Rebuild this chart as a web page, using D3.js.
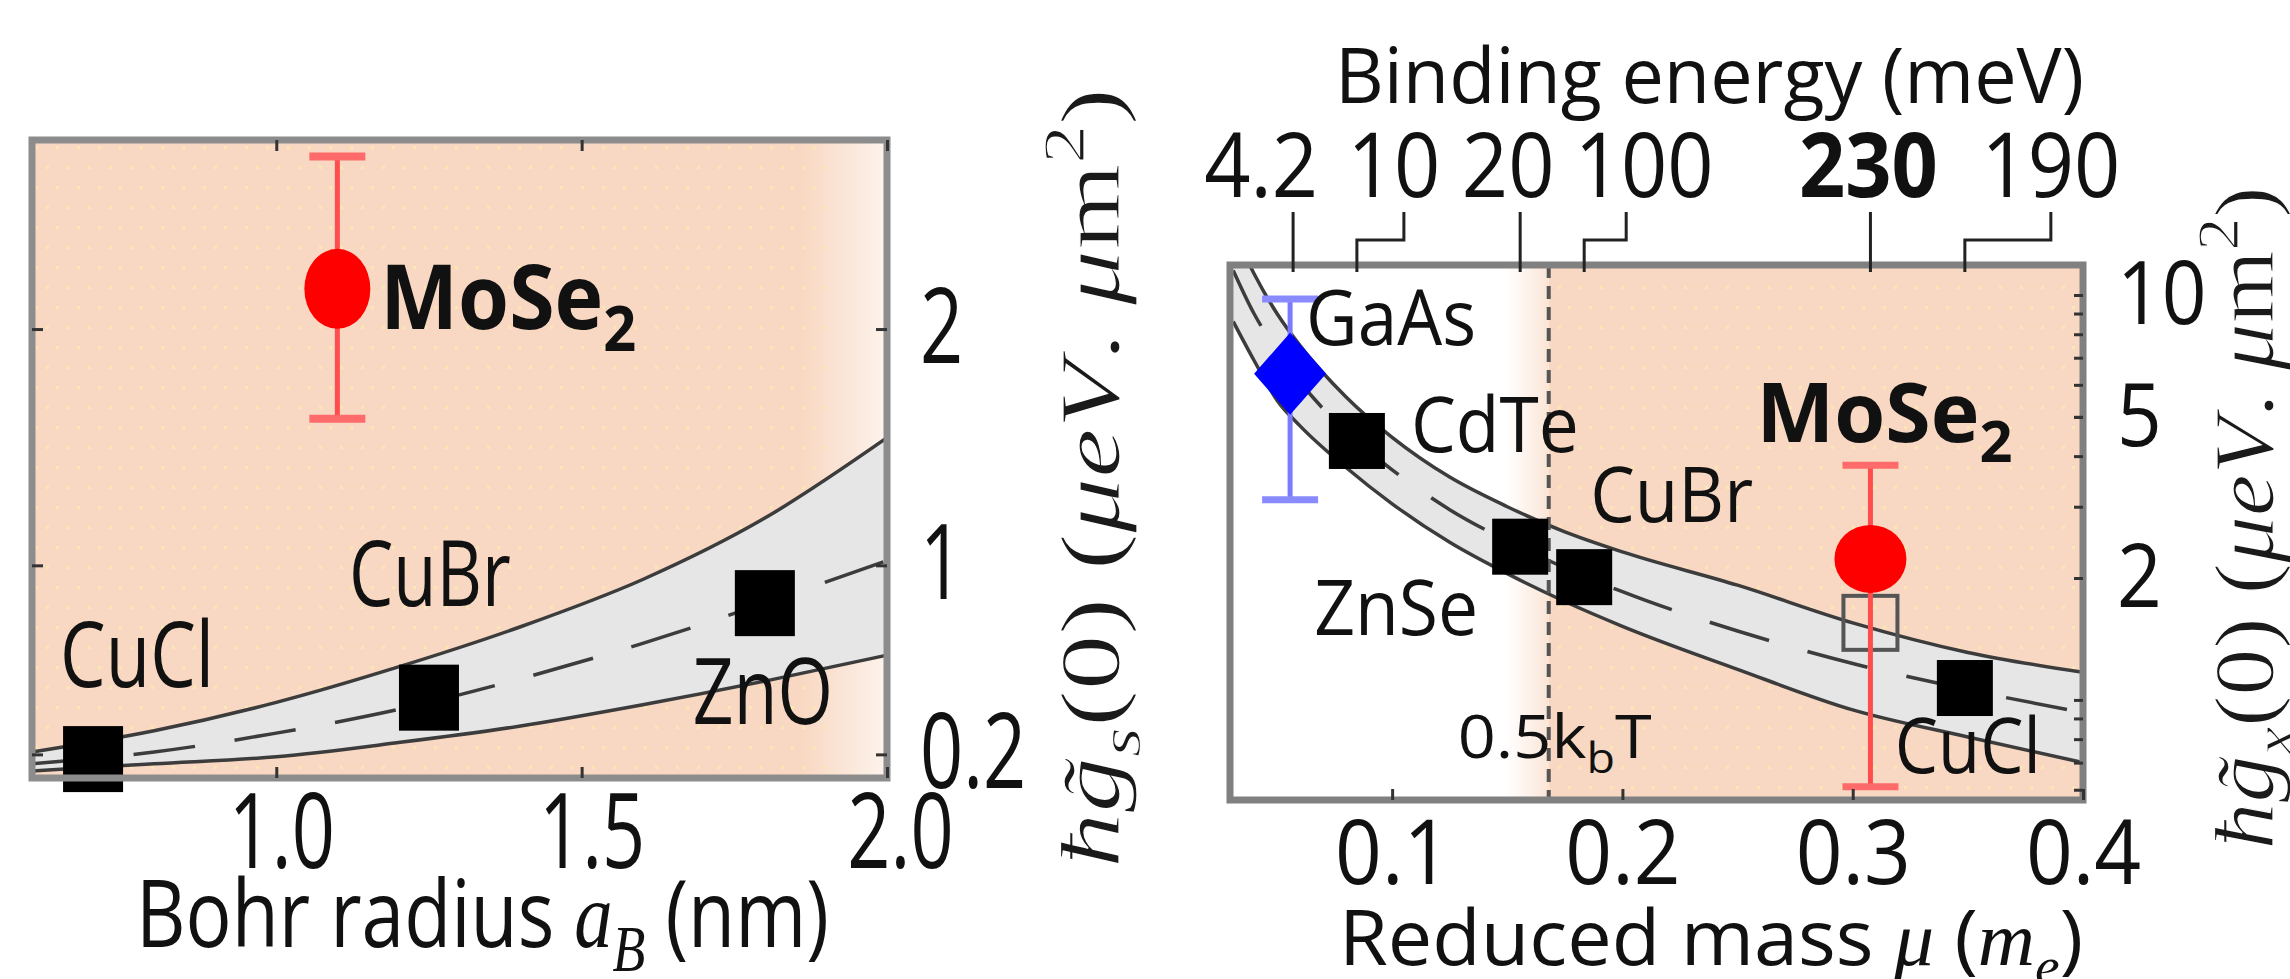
<!DOCTYPE html>
<html>
<head>
<meta charset="utf-8">
<title>Exciton interaction constants</title>
<script src="https://cdnjs.cloudflare.com/ajax/libs/d3/7.8.5/d3.min.js"></script>
<style>
  body { margin: 0; background: #ffffff; }
  #vis svg { display: block; }
  .tick line { stroke: #333; stroke-width: 3; }
</style>
</head>
<body>
<div id="vis"></div>
<script>
/* Two panels: g_s(0) against Bohr radius (left), g_x(0) against reduced mass with binding energies on top (right) */

// ---------------- left panel data ----------------
var leftNames = ["CuCl", "CuBr", "ZnO"];
var leftRadius = [0.70, 1.25, 1.80];
var leftG = [0.18, 0.44, 0.84];
var leftMoSe2 = [1.10, 2.17];        // a_B, g_s
var leftMoSe2Err = [1.62, 2.73];     // low, high

// theory band
var leftBandX = [0.6, 0.8, 1.0, 1.2, 1.4, 1.6, 1.8, 2.0];
var leftUpper = [0.21, 0.30, 0.42, 0.57, 0.74, 0.94, 1.20, 1.54];
var leftMid = [0.16, 0.21, 0.29, 0.39, 0.52, 0.67, 0.84, 1.02];
var leftLower = [0.13, 0.16, 0.19, 0.25, 0.32, 0.41, 0.51, 0.62];

var leftXTicks = [1.0, 1.5, 2.0];
var leftYTicks = [0.2, 1, 2];

// ---------------- right panel data ----------------
var rightNames = ["GaAs", "CdTe", "ZnSe", "CuBr", "MoSe2", "CuCl"];
var rightMu = [0.057, 0.0847, 0.1556, 0.1834, 0.3077, 0.3487];
var rightG = [6.39, 4.36, 2.39, 2.01, 2.23, 1.07];
var bindingEnergy = ["4.2", "10", "20", "100", "230", "190"];
var gaasErr = [3.12, 9.77];
var moseErr = [0.61, 3.80];
var moseOpen = 1.55;     // open square below MoSe2
var kTMu = 0.168;        // 0.5 k_b T boundary

var rightBandX = [0.031, 0.04, 0.05, 0.06, 0.08, 0.10, 0.125, 0.15, 0.175, 0.2, 0.25, 0.3, 0.35, 0.4];
var rightUpper = [14.5, 11.3, 9.0, 7.5, 5.6, 4.45, 3.55, 3.0, 2.6, 2.32, 1.92, 1.55, 1.31, 1.17];
var rightMid = [11.5, 9.0, 7.3, 6.1, 4.6, 3.7, 2.95, 2.47, 2.12, 1.85, 1.48, 1.23, 1.06, 0.93];
var rightLower = [8.6, 6.9, 5.5, 4.75, 3.75, 3.05, 2.45, 2.05, 1.75, 1.52, 1.19, 0.945, 0.81, 0.70];

var rightXTicks = [0.1, 0.2, 0.3, 0.4];
var rightYTicks = [2, 5, 10];

// ---------------- layout ----------------
var width = 2290, height = 979;
var L = {x0: 32, x1: 887, y0: 140, y1: 778};
var R = {x0: 1230, x1: 2083, y0: 265, y1: 800};
var peach = "#f8d8c2";
var band = "#e6e6e6";
var lineCol = "#3c3c3c";

// label offsets from their point, in px
var leftLabelShift = [[-33, -72], [-80, -92], [-72, 121]];
var leftLabelWidth = [154, 162, 140];
var rightLabelShift = [[13, -29], [54, 11], [-206, 88], [6, -55], [-114, -117], [-70, 85]];
var rightLabelWidth = [170, 168, 164, 163, 256, 146];
var bindLabelShift = [-32, 37, -12, 60, -2, 86];
var bindElbowShift = [0, 47, 0, 42, 0, 86];

var svg = d3.select("#vis").append("svg").attr("width", width).attr("height", height);
var defs = svg.append("defs");

defs.append("clipPath").attr("id", "clipL").append("rect")
    .attr("x", L.x0).attr("y", L.y0).attr("width", L.x1 - L.x0).attr("height", L.y1 - L.y0);
defs.append("clipPath").attr("id", "clipR").append("rect")
    .attr("x", R.x0).attr("y", R.y0).attr("width", R.x1 - R.x0).attr("height", R.y1 - R.y0);

var dots = defs.append("pattern").attr("id", "dots").attr("patternUnits", "userSpaceOnUse")
    .attr("width", 21).attr("height", 40);
dots.append("rect").attr("x", 4).attr("y", 6).attr("width", 3).attr("height", 3).attr("fill", "#fbe7b2");
dots.append("rect").attr("x", 14).attr("y", 26).attr("width", 3).attr("height", 3).attr("fill", "#fbe7b2");

var gradL = defs.append("linearGradient").attr("id", "fadeL").attr("gradientUnits", "userSpaceOnUse")
    .attr("x1", L.x0).attr("x2", L.x1).attr("y1", 0).attr("y2", 0);
gradL.append("stop").attr("offset", 0).attr("stop-color", peach);
gradL.append("stop").attr("offset", 0.9).attr("stop-color", peach);
gradL.append("stop").attr("offset", 1).attr("stop-color", "#fdf3ec");

// text helper: parts are tspans, the whole text is squeezed to a target width
function addText(parent, parts, size, opts) {
    var t = parent.append("text")
        .attr("font-size", size)
        .attr("font-family", "'Open Sans', sans-serif")
        .attr("fill", "#111")
        .attr("text-anchor", opts.anchor || "start")
        .attr("font-weight", opts.weight || null);
    var shift = 0;
    parts.forEach(function(p) {
        var s = t.append("tspan").text(p.t);
        var target = p.sub ? 0.25 * size : (p.sup ? -0.42 * size : 0);
        if (target !== shift) { s.attr("dy", target - shift); shift = target; }
        if (p.sub || p.sup) s.attr("font-size", size * 0.7);
        if (p.it) s.attr("font-style", "italic");
        if (p.serif) s.attr("font-family", "'Liberation Serif', serif");
    });
    var w = t.node().getBBox().width;
    var sx = opts.width ? opts.width / w : 1;
    t.attr("transform", "translate(" + opts.x + "," + opts.y + ")" +
        (opts.rotate ? " rotate(" + opts.rotate + ")" : "") + " scale(" + sx + ",1)");
    return t;
}

function styleAxis(sel, size, sx) {
    sel.select(".domain").remove();
    sel.selectAll("text")
        .attr("font-size", size)
        .attr("font-family", "'Open Sans', sans-serif")
        .attr("fill", "#111")
        .attr("transform", "scale(" + sx + ",1)");
}

// axis-title with the math symbols (rotated, thin serif look)
function gLabel(parent, sub, x, y, len) {
    return addText(parent, [{t: "\u0127g\u0303", it: true, serif: true}, {t: sub, sub: true, it: true, serif: true},
        {t: "(0) (", serif: true}, {t: "\u03bceV", it: true, serif: true}, {t: ". ", serif: true},
        {t: "\u03bc", it: true, serif: true}, {t: "m", serif: true}, {t: "2", sup: true, serif: true},
        {t: ")", serif: true}], 84, {x: x, y: y, width: len, anchor: "middle", rotate: -90})
        .attr("fill", "#1a1a1a").attr("stroke", "#ffffff").attr("stroke-width", 1.2);
}

/************************************** Left panel ***************************************/
var xL = d3.scaleLinear().domain([0.6, 2.0]).range([L.x0, L.x1]);
var yL = d3.scaleLinear().domain([0.1, 2.8]).range([L.y1, L.y0]);

var gL = svg.append("g");
gL.append("rect").attr("x", L.x0).attr("y", L.y0).attr("width", L.x1 - L.x0).attr("height", L.y1 - L.y0)
    .attr("fill", "url(#fadeL)");
gL.append("rect").attr("x", L.x0).attr("y", L.y0).attr("width", L.x1 - L.x0 - 60).attr("height", L.y1 - L.y0)
    .attr("fill", "url(#dots)");

var leftBand = leftBandX.map(function(x, i) {
    return {x: x, lo: leftLower[i], mid: leftMid[i], hi: leftUpper[i]};
});
var plotL = gL.append("g").attr("clip-path", "url(#clipL)");
plotL.append("path").datum(leftBand).attr("fill", band)
    .attr("d", d3.area().curve(d3.curveMonotoneX)
        .x(function(d) { return xL(d.x); })
        .y0(function(d) { return yL(d.lo); })
        .y1(function(d) { return yL(d.hi); }));
["hi", "lo", "mid"].forEach(function(k) {
    plotL.append("path").datum(leftBand)
        .attr("fill", "none").attr("stroke", lineCol).attr("stroke-width", 3.5)
        .attr("stroke-dasharray", k === "mid" ? "62,40" : null)
        .attr("d", d3.line().curve(d3.curveMonotoneX)
            .x(function(d) { return xL(d.x); })
            .y(function(d) { return yL(d[k]); }));
});

// MoSe2 point with error bar
var mx = xL(leftMoSe2[0]);
plotL.append("line").attr("x1", mx).attr("x2", mx)
    .attr("y1", yL(leftMoSe2Err[0])).attr("y2", yL(leftMoSe2Err[1]))
    .attr("stroke", "#ff4d4d").attr("stroke-width", 5);
leftMoSe2Err.forEach(function(v) {
    plotL.append("line").attr("x1", mx - 28).attr("x2", mx + 28).attr("y1", yL(v)).attr("y2", yL(v))
        .attr("stroke", "#ff6a6a").attr("stroke-width", 8);
});
plotL.append("ellipse").attr("cx", mx).attr("cy", yL(leftMoSe2[1])).attr("rx", 33).attr("ry", 40)
    .attr("fill", "#ff0000");

var leftPts = leftNames.map(function(n, i) { return {name: n, x: leftRadius[i], y: leftG[i]}; });
gL.selectAll("rect.pt").data(leftPts).enter().append("rect").attr("class", "pt")
    .attr("x", function(d) { return xL(d.x) - 30; })
    .attr("y", function(d) { return yL(d.y) - 33; })
    .attr("width", 60).attr("height", 66).attr("fill", "#000");

leftPts.forEach(function(d, i) {
    addText(gL, [{t: d.name}], 91, {
        x: xL(d.x) + leftLabelShift[i][0], y: yL(d.y) + leftLabelShift[i][1], width: leftLabelWidth[i]
    });
});
addText(gL, [{t: "MoSe"}, {t: "2", sub: true}], 90, {
    x: mx + 43, y: yL(leftMoSe2[1]) + 40, width: 256, weight: "bold"
});

gL.append("rect").attr("x", L.x0).attr("y", L.y0).attr("width", L.x1 - L.x0).attr("height", L.y1 - L.y0)
    .attr("fill", "none").attr("stroke", "#8c8c8c").attr("stroke-width", 7);

// axes
gL.append("g").attr("transform", "translate(0," + L.y1 + ")")
    .call(d3.axisBottom(xL).tickValues(leftXTicks).tickFormat(d3.format(".1f"))
        .tickSizeInner(-11).tickSizeOuter(0).tickPadding(15))
    .call(styleAxis, 105, 0.72)
    .selectAll("text").attr("x", function(d, i) { return [5, 10, 13][i] / 0.72; });
gL.append("g").attr("transform", "translate(0," + L.y0 + ")")
    .call(d3.axisTop(xL).tickValues(leftXTicks).tickFormat("").tickSizeInner(-11).tickSizeOuter(0))
    .call(styleAxis, 10, 1);
gL.append("g").attr("transform", "translate(" + L.x1 + ",0)")
    .call(d3.axisRight(yL).tickValues(leftYTicks).tickFormat(d3.format(""))
        .tickSizeInner(-11).tickSizeOuter(0).tickPadding(33 / 0.72))
    .call(styleAxis, 105, 0.72);
gL.append("g").attr("transform", "translate(" + L.x0 + ",0)")
    .call(d3.axisLeft(yL).tickValues(leftYTicks).tickFormat("").tickSizeInner(-11).tickSizeOuter(0))
    .call(styleAxis, 10, 1);

addText(gL, [{t: "Bohr radius "}, {t: "a", it: true, serif: true}, {t: "B", sub: true, it: true, serif: true},
    {t: " (nm)"}], 94, {x: 136, y: 947, width: 693});

gLabel(gL, "s", 1119, 478, 780);

/************************************** Right panel ***************************************/
var xR = d3.scaleLinear().domain([0.0296, 0.4]).range([R.x0, R.x1]);
var yR = d3.scaleLog().domain([0.566, 11.86]).range([R.y1, R.y0]);

var gR = svg.append("g");
var kx = xR(kTMu);
var gradR = defs.append("linearGradient").attr("id", "fadeR").attr("gradientUnits", "userSpaceOnUse")
    .attr("x1", kx - 42).attr("x2", kx).attr("y1", 0).attr("y2", 0);
gradR.append("stop").attr("offset", 0).attr("stop-color", "#ffffff");
gradR.append("stop").attr("offset", 1).attr("stop-color", "#fbe5d6");
gR.append("rect").attr("x", kx - 42).attr("y", R.y0).attr("width", 42).attr("height", R.y1 - R.y0)
    .attr("fill", "url(#fadeR)");
gR.append("rect").attr("x", kx).attr("y", R.y0).attr("width", R.x1 - kx).attr("height", R.y1 - R.y0)
    .attr("fill", peach);
gR.append("rect").attr("x", kx).attr("y", R.y0).attr("width", R.x1 - kx).attr("height", R.y1 - R.y0)
    .attr("fill", "url(#dots)");

var rightBand = rightBandX.map(function(x, i) {
    return {x: x, lo: rightLower[i], mid: rightMid[i], hi: rightUpper[i]};
});
var plotR = gR.append("g").attr("clip-path", "url(#clipR)");
plotR.append("path").datum(rightBand).attr("fill", band)
    .attr("d", d3.area().curve(d3.curveMonotoneX)
        .x(function(d) { return xR(d.x); })
        .y0(function(d) { return yR(d.lo); })
        .y1(function(d) { return yR(d.hi); }));
["hi", "lo", "mid"].forEach(function(k) {
    plotR.append("path").datum(rightBand)
        .attr("fill", "none").attr("stroke", lineCol).attr("stroke-width", 3.5)
        .attr("stroke-dasharray", k === "mid" ? "62,40" : null)
        .attr("d", d3.line().curve(d3.curveMonotoneX)
            .x(function(d) { return xR(d.x); })
            .y(function(d) { return yR(d[k]); }));
});

// 0.5 k_b T line
plotR.append("line").attr("x1", kx).attr("x2", kx).attr("y1", R.y0).attr("y2", R.y1)
    .attr("stroke", "#555").attr("stroke-width", 4).attr("stroke-dasharray", "13,8");

var rightPts = rightNames.map(function(n, i) { return {name: n, x: rightMu[i], y: rightG[i]}; });

// GaAs error bar + diamond
var gx = xR(rightMu[0]) - 3;
plotR.append("line").attr("x1", gx).attr("x2", gx).attr("y1", yR(gaasErr[0])).attr("y2", yR(gaasErr[1]))
    .attr("stroke", "#7b7bff").attr("stroke-width", 5);
gaasErr.forEach(function(v) {
    plotR.append("line").attr("x1", gx - 28).attr("x2", gx + 28).attr("y1", yR(v)).attr("y2", yR(v))
        .attr("stroke", "#8a8aff").attr("stroke-width", 7);
});
var gy = yR(rightG[0]);
plotR.append("path").attr("fill", "#0000ff")
    .attr("d", "M" + gx + "," + (gy - 41) + "L" + (gx + 36) + "," + gy + "L" + gx + "," + (gy + 41) +
        "L" + (gx - 36) + "," + gy + "Z");

// squares
plotR.selectAll("rect.pt").data(rightPts.filter(function(d) { return d.name !== "GaAs" && d.name !== "MoSe2"; }))
    .enter().append("rect").attr("class", "pt")
    .attr("x", function(d) { return xR(d.x) - 28; })
    .attr("y", function(d) { return yR(d.y) - 28; })
    .attr("width", 56).attr("height", 56).attr("fill", "#000");

// MoSe2: open square, error bar, red circle
var rx = xR(rightMu[4]);
plotR.append("rect").attr("x", rx - 27).attr("y", yR(moseOpen) - 27).attr("width", 54).attr("height", 54)
    .attr("fill", "none").attr("stroke", "#555").attr("stroke-width", 4);
plotR.append("line").attr("x1", rx).attr("x2", rx).attr("y1", yR(moseErr[0])).attr("y2", yR(moseErr[1]))
    .attr("stroke", "#ff4d4d").attr("stroke-width", 5);
moseErr.forEach(function(v) {
    plotR.append("line").attr("x1", rx - 28).attr("x2", rx + 28).attr("y1", yR(v)).attr("y2", yR(v))
        .attr("stroke", "#ff6a6a").attr("stroke-width", 7);
});
plotR.append("ellipse").attr("cx", rx).attr("cy", yR(rightG[4])).attr("rx", 36).attr("ry", 34)
    .attr("fill", "#ff0000");

rightPts.forEach(function(d, i) {
    var parts = d.name === "MoSe2" ? [{t: "MoSe"}, {t: "2", sub: true}] : [{t: d.name}];
    addText(gR, parts, d.name === "MoSe2" ? 82 : 77, {
        x: xR(d.x) + rightLabelShift[i][0], y: yR(d.y) + rightLabelShift[i][1],
        width: rightLabelWidth[i], weight: d.name === "MoSe2" ? "bold" : null
    });
});
addText(gR, [{t: "0.5k"}, {t: "b", sub: true}, {t: "T"}], 60, {x: kx - 91, y: 758, width: 194});

gR.append("rect").attr("x", R.x0).attr("y", R.y0).attr("width", R.x1 - R.x0).attr("height", R.y1 - R.y0)
    .attr("fill", "none").attr("stroke", "#808080").attr("stroke-width", 7);

// axes
gR.append("g").attr("transform", "translate(0," + R.y1 + ")")
    .call(d3.axisBottom(xR).tickValues(rightXTicks).tickFormat(d3.format(".1f"))
        .tickSizeInner(-11).tickSizeOuter(0).tickPadding(20))
    .call(styleAxis, 90, 0.91);
gR.append("g").attr("transform", "translate(" + R.x1 + ",0)")
    .call(d3.axisRight(yR).tickValues(yR.ticks()).tickFormat("").tickSizeInner(-9).tickSizeOuter(0))
    .call(styleAxis, 10, 1);
gR.append("g").attr("transform", "translate(" + R.x1 + ",0)")
    .call(d3.axisRight(yR).tickValues(rightYTicks).tickFormat(d3.format("d"))
        .tickSizeInner(-9).tickSizeOuter(0).tickPadding(34 / 0.89))
    .call(styleAxis, 88, 0.89);

// binding energy axis on top
rightPts.forEach(function(d, i) {
    var tx = xR(d.x);
    var path = bindElbowShift[i] ?
        "M" + (tx + bindElbowShift[i]) + ",212V240H" + tx + "V272" :
        "M" + tx + ",212V272";
    gR.append("path").attr("d", path).attr("fill", "none").attr("stroke", "#222").attr("stroke-width", 3);
    addText(gR, [{t: bindingEnergy[i]}], 90, {
        x: tx + bindLabelShift[i], y: 197, anchor: "middle",
        weight: d.name === "MoSe2" ? "bold" : null
    }).attr("transform", function() {
        return d3.select(this).attr("transform") + " scale(0.9,1)";
    });
});

addText(gR, [{t: "Binding energy (meV)"}], 76, {x: 1335, y: 103, width: 749});
addText(gR, [{t: "Reduced mass "}, {t: "\u03bc", it: true, serif: true}, {t: " ("},
    {t: "m", it: true, serif: true}, {t: "e", sub: true, it: true, serif: true}, {t: ")"}],
    76, {x: 1339, y: 965, width: 744});

gLabel(gR, "x", 2273, 518, 663);
</script>
</body>
</html>
